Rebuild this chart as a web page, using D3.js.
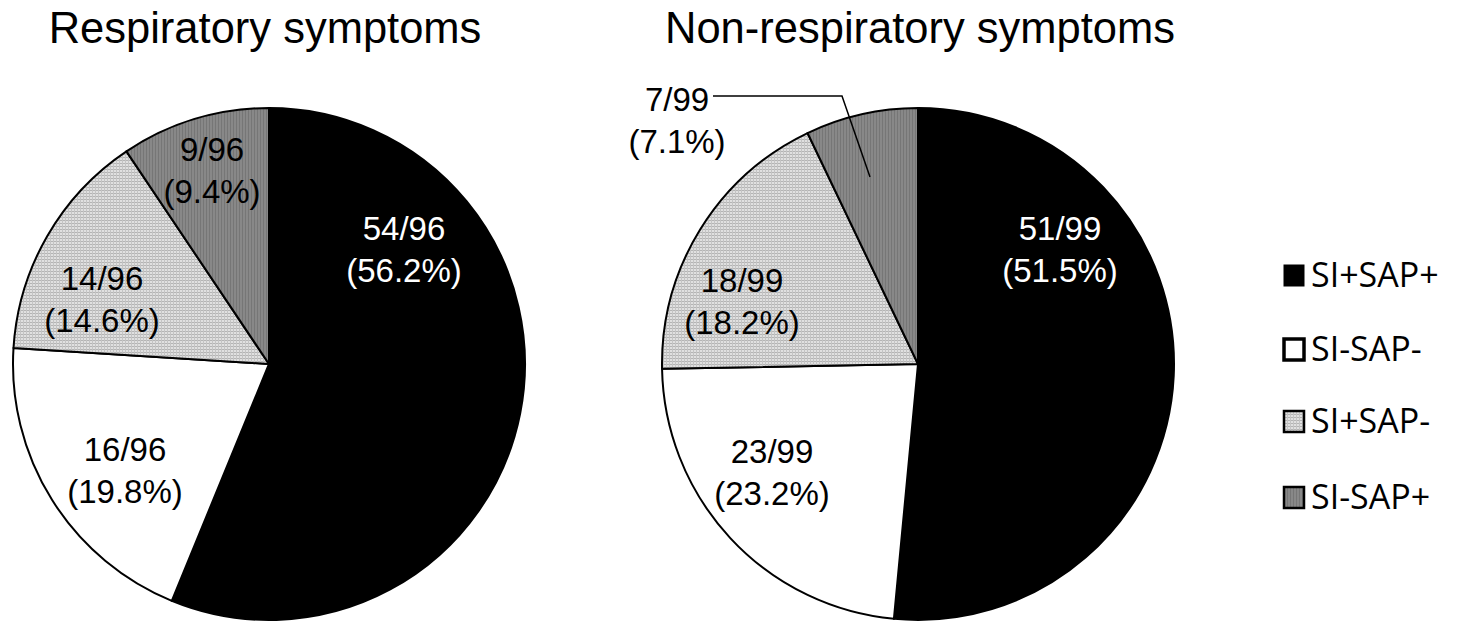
<!DOCTYPE html>
<html>
<head>
<meta charset="utf-8">
<script src="https://cdn.jsdelivr.net/npm/d3@7"></script>
<style>
    body { margin: 0; background: #fff; }
    svg { display: block; }
</style>
</head>
<body>
<div class="mainView"></div>
<script>
// data
let categories = ["SI+SAP+", "SI-SAP-", "SI+SAP-", "SI-SAP+"];
let titles = ["Respiratory symptoms", "Non-respiratory symptoms"];
let respPercent = [56.2, 19.8, 14.6, 9.4];
let respCounts = ["54/96", "16/96", "14/96", "9/96"];
let nonRespPercent = [51.5, 23.2, 18.2, 7.1];
let nonRespCounts = ["51/99", "23/99", "18/99", "7/99"];

// label placement (centre of the two text lines), per pie, per slice
let labelPos = [
    [[404, 249], [125, 470], [102, 299], [212, 170]],
    [[1060, 249], [772, 472], [742, 301], [677, 120]]
];

function config(){
    let width = 1466;
    let height = 624;
    let radius = 256;
    let centers = [[269, 364], [918, 364]];
    let titleX = [265, 920];
    let svg = d3.select(".mainView")
                .append("svg")
                .attr("width", width)
                .attr("height", height);
    return { width, height, radius, centers, titleX, svg };
}

function patterns(svg){
    let defs = svg.append("defs");
    let light = defs.append("pattern")
        .attr("id", "lightGrid")
        .attr("patternUnits", "userSpaceOnUse")
        .attr("width", 3)
        .attr("height", 3);
    light.append("rect").attr("width", 3).attr("height", 3).style("fill", "#e0e0e0");
    light.append("rect").attr("width", 3).attr("height", 1).style("fill", "#b4b4b4");
    light.append("rect").attr("width", 1).attr("height", 3).style("fill", "#c4c4c4");

    let dark = defs.append("pattern")
        .attr("id", "darkStripe")
        .attr("patternUnits", "userSpaceOnUse")
        .attr("width", 3)
        .attr("height", 3);
    dark.append("rect").attr("width", 3).attr("height", 3).style("fill", "#888");
    dark.append("rect").attr("width", 1).attr("height", 3).style("fill", "#767676");
}

let fills = d3.scaleOrdinal()
    .domain(categories)
    .range(["#000", "#fff", "url(#lightGrid)", "url(#darkStripe)"]);
let textColor = d3.scaleOrdinal()
    .domain(categories)
    .range(["#fff", "#000", "#000", "#000"]);

function drawPie(cfg, idx, percents, counts){
    let { svg, radius, centers, titleX } = cfg;
    let [cx, cy] = centers[idx];
    let rows = categories.map((c, i) => ({ cat: c, value: percents[i], count: counts[i] }));
    let pie = d3.pie().sort(null).value(d => d.value);
    let arc = d3.arc().innerRadius(0).outerRadius(radius);

    let g = svg.append("g").attr("transform", "translate(" + [cx, cy] + ")");
    g.selectAll("path")
        .data(pie(rows))
        .enter()
        .append("path")
        .attr("d", arc)
        .style("fill", d => fills(d.data.cat))
        .style("stroke", "#000")
        .style("stroke-width", 2)
        .style("stroke-linejoin", "round");

    svg.append("text")
        .attr("x", titleX[idx])
        .attr("y", 43)
        .attr("text-anchor", "middle")
        .style("font-family", "'Liberation Sans', Arial, sans-serif")
        .style("font-size", "43.5px")
        .text(titles[idx]);

    rows.forEach((r, i) => {
        let [lx, ly] = labelPos[idx][i];
        let t = svg.append("text")
            .attr("text-anchor", "middle")
            .style("font-family", "'Liberation Sans', Arial, sans-serif")
            .style("font-size", "33px")
            .style("fill", textColor(r.cat));
        t.append("tspan").attr("x", lx).attr("y", ly - 9).text(r.count);
        t.append("tspan").attr("x", lx).attr("y", ly + 33).text("(" + r.value.toFixed(1) + "%)");
    });
}

function leader(cfg){
    // callout for the small slice in the second pie
    let pts = [[713, 96], [842, 96], [870, 177]];
    cfg.svg.append("path")
        .attr("d", d3.line()(pts))
        .style("fill", "none")
        .style("stroke", "#000")
        .style("stroke-width", 1.5);
}

function legend(cfg){
    let rowsY = [275, 349, 421, 497];
    let g = cfg.svg.append("g");
    categories.forEach((c, i) => {
        let y = rowsY[i];
        g.append("rect")
            .attr("x", 1284)
            .attr("y", y - 10)
            .attr("width", 20)
            .attr("height", 21)
            .style("fill", fills(c))
            .style("stroke", "#000")
            .style("stroke-width", i == 0 ? 1 : (i == 1 ? 3.5 : 2.5));
        g.append("text")
            .attr("x", 1311)
            .attr("y", y + 12)
            .style("font-family", "'Open Sans', sans-serif")
            .style("font-size", "34px")
            .text(c);
    });
}

let cfg = config();
patterns(cfg.svg);
drawPie(cfg, 0, respPercent, respCounts);
drawPie(cfg, 1, nonRespPercent, nonRespCounts);
leader(cfg);
legend(cfg);
</script>
</body>
</html>
